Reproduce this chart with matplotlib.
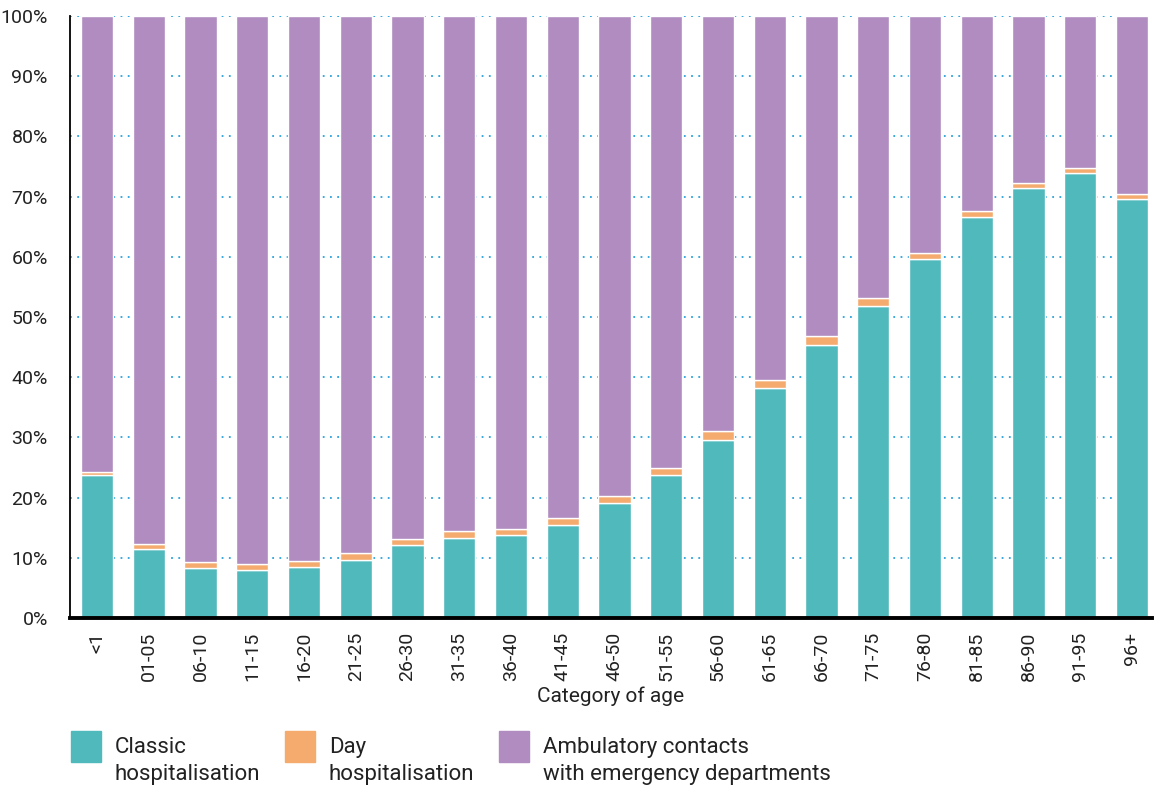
import numpy as np
import matplotlib
matplotlib.use("Agg")
from matplotlib import pyplot as plt
from matplotlib import font_manager
from matplotlib.patches import Rectangle

# pick a narrow font if there is one
names = set(f.name for f in font_manager.fontManager.ttflist)
if 'Liberation Sans Narrow' in names:
    plt.rcParams['font.family'] = ['Liberation Sans Narrow', 'DejaVu Sans']
else:
    plt.rcParams['font.family'] = ['Roboto', 'DejaVu Sans']

age_groups = ['<1', '01-05', '06-10', '11-15', '16-20', '21-25', '26-30', '31-35',
              '36-40', '41-45', '46-50', '51-55', '56-60', '61-65', '66-70',
              '71-75', '76-80', '81-85', '86-90', '91-95', '96+']
classic = [23.8, 11.4, 8.3, 7.9, 8.4, 9.6, 12.1, 13.3, 13.8, 15.4, 19.1,
           23.7, 29.6, 38.2, 45.3, 51.8, 59.6, 66.6, 71.4, 73.9, 69.6]
day = [0.5, 0.9, 1.0, 1.1, 1.0, 1.2, 1.0, 1.2, 1.0, 1.2, 1.2,
       1.3, 1.4, 1.4, 1.5, 1.3, 1.1, 1.0, 0.8, 0.8, 0.8]
ambulatory = [100 - c - d for c, d in zip(classic, day)]

legend_labels = ['Classic\nhospitalisation', 'Day\nhospitalisation',
                 'Ambulatory contacts\nwith emergency departments']
colors = ['#50b9bc', '#f5ab6e', '#b08cc0']

fig = plt.figure(figsize=(11.54, 7.89), dpi=100)
ax = fig.add_axes([0.0607, 0.2167, 0.9373, 0.763])

x = np.arange(len(age_groups))
w = 0.62
ax.bar(x, classic, w, color=colors[0], edgecolor='white', linewidth=1, zorder=3)
ax.bar(x, day, w, bottom=classic, color=colors[1], edgecolor='white', linewidth=1, zorder=3)
bottom2 = [c + d for c, d in zip(classic, day)]
ax.bar(x, ambulatory, w, bottom=bottom2, color=colors[2], edgecolor='white', linewidth=1, zorder=3)

ax.set_xlim(-0.52, 20.38)
ax.set_ylim(0, 100)
ax.set_yticks(range(0, 101, 10))
ax.set_yticklabels([f'{v}%' for v in range(0, 101, 10)], fontsize=14)
ax.set_xticks(x)
ax.set_xticklabels(age_groups, rotation=90, fontsize=14)
ax.tick_params(length=0, pad=10, colors='#222222')
ax.tick_params(axis='y', pad=16)
ax.yaxis.grid(True, linestyle=(0, (1, 3)), color='#29a3dc', linewidth=1.3, zorder=0)
ax.set_axisbelow(True)
ax.set_xlabel('Category of age', fontsize=15, labelpad=4, color='#222222')

for s in ['top', 'right']:
    ax.spines[s].set_visible(False)
ax.spines['left'].set_linewidth(1.3)
ax.spines['bottom'].set_linewidth(2.8)
ax.spines['left'].set_zorder(5)
ax.spines['bottom'].set_zorder(5)

# legend drawn by hand so the squares sit next to the first line
leg_x = [71, 285, 499]
H, W = 789.0, 1154.0
for lx, lab, col in zip(leg_x, legend_labels, colors):
    fig.add_artist(Rectangle((lx / W, (H - 762) / H), 30 / W, 31 / H,
                             transform=fig.transFigure, color=col))
    fig.text((lx + 44) / W, (H - 737) / H, lab, fontsize=16, va='top', ha='left',
             linespacing=1.35, color='#222222')

fig.savefig('out.png', dpi=100)
